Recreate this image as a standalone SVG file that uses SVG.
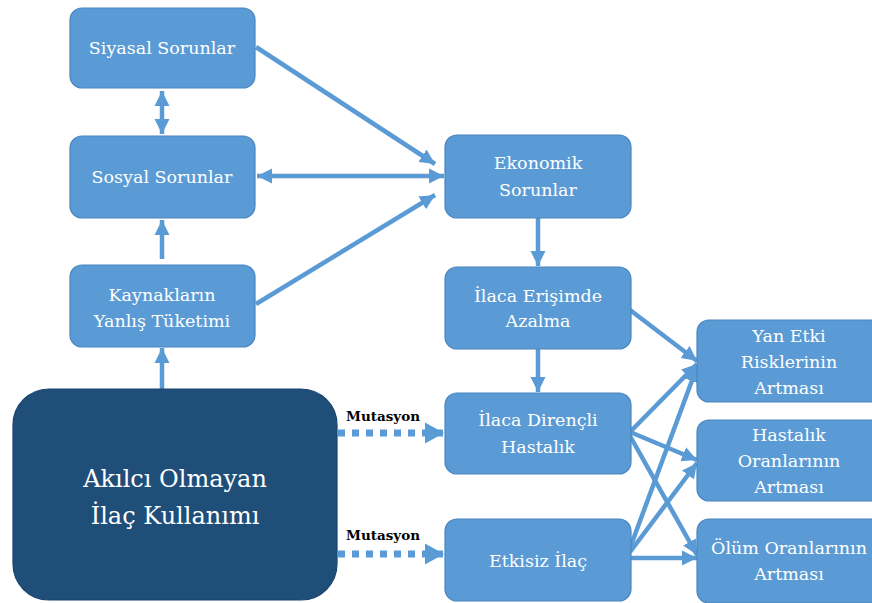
<svg xmlns="http://www.w3.org/2000/svg" width="872" height="603" viewBox="0 0 872 603">
<defs>
<marker id="ah" markerUnits="userSpaceOnUse" markerWidth="16" markerHeight="16" refX="15" refY="8" orient="auto-start-reverse" viewBox="0 0 16 16">
<path d="M0,0.5 L15,8 L0,15.5 z" fill="#5B9BD5"/>
</marker>
<marker id="ahd" markerUnits="userSpaceOnUse" markerWidth="20" markerHeight="22" refX="19" refY="11" orient="auto" viewBox="0 0 20 22">
<path d="M0,0.5 L19,11 L0,21.5 z" fill="#5B9BD5"/>
</marker>
<style>
.b{fill:#5B9BD5;stroke:#4A86C0;stroke-width:1.2}
.d{fill:#1F4E79;stroke:#1A4470;stroke-width:1.2}
.t{font-family:"DejaVu Serif","Liberation Serif",serif;font-size:17.5px;fill:#fff;text-anchor:middle}
.tl{font-family:"DejaVu Serif","Liberation Serif",serif;font-size:24px;fill:#fff;text-anchor:middle}
.m{font-family:"DejaVu Serif","Liberation Serif",serif;font-size:13.5px;font-weight:bold;fill:#000}
.c{stroke:#5B9BD5;stroke-width:4.5;fill:none;marker-end:url(#ah)}
.cd{stroke:#5B9BD5;stroke-width:7;fill:none;stroke-dasharray:7 7;marker-end:url(#ahd)}
</style>
</defs>
<rect width="872" height="603" fill="#fff"/>
<g id="connectors">
<line class="c" x1="162" y1="91" x2="162" y2="134" style="marker-start:url(#ah)"/>
<line class="c" x1="162" y1="259" x2="162" y2="220"/>
<line class="c" x1="162" y1="389" x2="162" y2="348"/>
<line class="c" x1="256" y1="47" x2="435" y2="164"/>
<line class="c" x1="257" y1="176" x2="444" y2="176" style="marker-start:url(#ah)"/>
<line class="c" x1="256" y1="304" x2="435" y2="195"/>
<line class="c" x1="538" y1="218" x2="538" y2="266"/>
<line class="c" x1="538" y1="349" x2="538" y2="392"/>
<line class="cd" x1="338" y1="433" x2="444" y2="433"/>
<line class="cd" x1="338" y1="554" x2="444" y2="554"/>
<line class="c" x1="630" y1="310" x2="697" y2="361"/>
<line class="c" x1="630" y1="432" x2="697" y2="364"/>
<line class="c" x1="630" y1="548" x2="697" y2="367"/>
<line class="c" x1="630" y1="432" x2="697" y2="460"/>
<line class="c" x1="630" y1="552" x2="697" y2="463"/>
<line class="c" x1="630" y1="436" x2="697" y2="555"/>
<line class="c" x1="630" y1="558" x2="697" y2="558"/>
</g>
<text class="m" x="346" y="421">Mutasyon</text>
<text class="m" x="346" y="540">Mutasyon</text>
<g id="siyasal"><rect class="b" x="70" y="8" width="185" height="80" rx="12"/><text class="t" x="162" y="54">Siyasal Sorunlar</text></g>
<g id="sosyal"><rect class="b" x="70" y="136" width="185" height="82" rx="12"/><text class="t" x="162" y="183">Sosyal Sorunlar</text></g>
<g id="kaynaklar"><rect class="b" x="70" y="265" width="185" height="82" rx="12"/><text class="t" x="162" y="301">Kaynakların</text><text class="t" x="162" y="327">Yanlış Tüketimi</text></g>
<g id="akilci"><rect class="d" x="13" y="389" width="324" height="211" rx="36"/><text class="tl" x="175" y="487">Akılcı Olmayan</text><text class="tl" x="175" y="524">İlaç Kullanımı</text></g>
<g id="ekonomik"><rect class="b" x="445" y="135" width="186" height="83" rx="12"/><text class="t" x="538" y="169">Ekonomik</text><text class="t" x="538" y="196">Sorunlar</text></g>
<g id="erisim"><rect class="b" x="445" y="267" width="186" height="82" rx="12"/><text class="t" x="538" y="302">İlaca Erişimde</text><text class="t" x="538" y="327">Azalma</text></g>
<g id="direncli"><rect class="b" x="445" y="393" width="186" height="81" rx="12"/><text class="t" x="538" y="426">İlaca Dirençli</text><text class="t" x="538" y="453">Hastalık</text></g>
<g id="etkisiz"><rect class="b" x="445" y="519" width="186" height="82" rx="12"/><text class="t" x="538" y="567">Etkisiz İlaç</text></g>
<g id="yanetki"><rect class="b" x="697" y="320" width="186" height="82" rx="12"/><text class="t" x="789" y="342">Yan Etki</text><text class="t" x="789" y="368">Risklerinin</text><text class="t" x="789" y="394">Artması</text></g>
<g id="hastalik"><rect class="b" x="697" y="420" width="186" height="81" rx="12"/><text class="t" x="789" y="441">Hastalık</text><text class="t" x="789" y="467">Oranlarının</text><text class="t" x="789" y="493">Artması</text></g>
<g id="olum"><rect class="b" x="697" y="519" width="186" height="84" rx="12"/><text class="t" x="789" y="554">Ölüm Oranlarının</text><text class="t" x="789" y="580">Artması</text></g>
</svg>
